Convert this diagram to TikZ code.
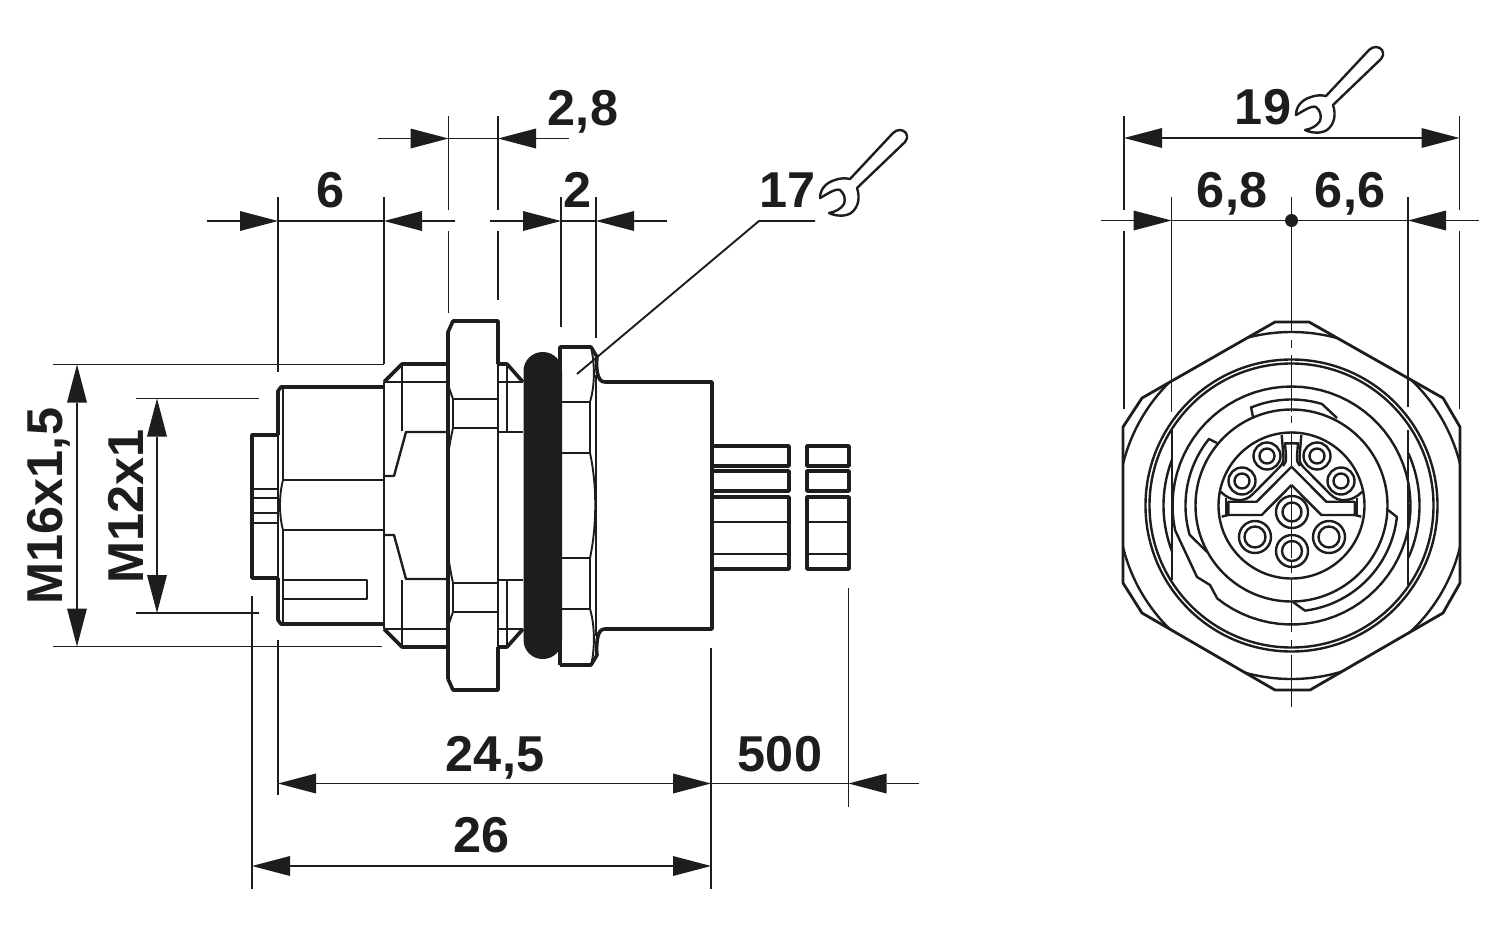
\documentclass[tikz,border=0pt]{standalone}
\usepackage{fontspec}
\setmainfont{Liberation Sans}
\usetikzlibrary{arrows.meta}
\definecolor{ink}{HTML}{1D1D1B}
\tikzset{
  dimline/.style={draw=ink,line width=0.95pt,line cap=butt},
  thinl/.style={draw=ink,line width=0.95pt,line join=miter},
  midl/.style={draw=ink,line width=1.2pt,line join=round},
  thickl/.style={draw=ink,line width=1.8pt,line join=round},
  tipr/.style={dimline,-{Triangle[length=19pt,width=10pt,line width=0pt,sep=0pt]}},
  both/.style={dimline,{Triangle[length=19pt,width=10pt,line width=0pt,sep=0pt]}-{Triangle[length=19pt,width=10pt,line width=0pt,sep=0pt]}},
  lab/.style={font=\bfseries\fontsize{25.2pt}{25pt}\selectfont,text=ink,anchor=base,inner sep=0pt,outer sep=0pt},
}
\newcommand{\wrenchshape}{%
  \draw[midl,fill=white] (850,179) -- (893,133) .. controls (897,129) and (903,129) .. (906,133)
   .. controls (908,137) and (907,140) .. (905,142) -- (857,188)
   .. controls (860,197) and (859,207) .. (851,213) .. controls (845,217) and (835,216) .. (829,213)
   .. controls (835,212) and (841,209) .. (844,204) .. controls (846,199) and (844,193) .. (840,190)
   .. controls (835,188) and (826,195) .. (820,198) .. controls (820,190) and (825,183) .. (835,180)
   .. controls (840,178) and (846,178) .. (850,179) -- cycle;}
\newcommand{\rarc}[3]{-- plot[domain=#2:#3,samples=70] ({1291.5+#1*cos(\x)},{505.5-#1*sin(\x)})}
\newcommand{\rarcs}[3]{plot[domain=#2:#3,samples=70] ({1291.5+#1*cos(\x)},{505.5-#1*sin(\x)})}
\begin{document}
\begin{tikzpicture}[x=0.5pt,y=-0.5pt]
\useasboundingbox (0,0) rectangle (1500,937);
% ---------- side view: front plug
\draw[thickl] (278,435) -- (252,435) -- (252,578) -- (278,578);
\draw[thinl] (254,489) -- (278,489) (254,498) -- (278,498) (254,513) -- (278,513) (254,523) -- (278,523);
\draw[thickl] (278,435) -- (278,391) -- (281,387) -- (384,387);
\draw[thickl] (278,578) -- (278,620) -- (281,624) -- (384,624);
\draw[thinl] (278,435) -- (278,578);
\draw[thinl] (283,387) -- (283,480) .. controls (279,495) and (279,515) .. (283,530) -- (283,624);
\draw[thinl] (283,480) -- (384,480) (283,530) -- (384,530);
\draw[midl] (283,580) -- (367,580) -- (367,599) -- (283,599);
% first nut
\draw[midl] (384,382) -- (384,629);
\draw[thickl] (384,382) -- (402,364) -- (448,364);
\draw[thickl] (384,629) -- (402,647) -- (448,647);
\draw[thinl] (384,382) -- (448,382) (384,629) -- (448,629);
\draw[midl] (402,364) -- (402,431) (402,580) -- (402,647);
\draw[midl] (384,476) -- (394,476) -- (406,432) -- (448,432);
\draw[midl] (384,535) -- (394,535) -- (406,579) -- (448,579);
% big nut
\draw[thickl] (448,679) -- (448,332) -- (453,321) -- (498,321) -- (498,364);
\draw[thickl] (448,679) -- (453,690) -- (498,690) -- (498,647);
\draw[midl] (498,364) -- (498,647);
\draw[thinl] (453,399) -- (498,399) (453,428) -- (498,428) (453,583) -- (498,583) (453,612) -- (498,612);
\draw[thinl] (448,385) -- (453,399) -- (453,428) .. controls (451,437) and (449,447) .. (448,457);
\draw[thinl] (448,553) .. controls (449,563) and (451,574) .. (453,583) -- (453,612) -- (448,626);
% ring seat
\draw[thickl] (498,364) -- (507,364) -- (523,382);
\draw[thickl] (498,647) -- (507,647) -- (523,629);
\draw[thinl] (498,382) -- (523,382) (498,432) -- (523,432) (498,580) -- (523,580) (498,629) -- (523,629);
\draw[midl] (507,364) -- (507,431) (507,580) -- (507,647);
% O ring
\fill[ink,rounded corners=9.5pt] (523.5,352) rectangle (562,659);
% second nut
\draw[thickl] (560,665) -- (560,347) -- (591,347) -- (597,357) .. controls (596,365) and (597,373) .. (598,375) .. controls (599,379) and (601,382) .. (605,382) -- (712,382) -- (712,446);
\draw[thickl] (712,569) -- (712,629) -- (605,629) .. controls (601,629) and (599,632) .. (598,636) .. controls (597,640) and (596,648) .. (597,655) -- (591,665) -- (560,665);
\draw[midl] (712,446) -- (712,569);
\draw[thinl] (560,402) -- (590,402) -- (590,453) -- (560,453);
\draw[thinl] (560,558) -- (590,558) -- (590,609) -- (560,609);
\draw[thinl] (591,347) .. controls (595,365) and (595,385) .. (590,402);
\draw[thinl] (590,453) .. controls (597,485) and (597,525) .. (590,558);
\draw[thinl] (590,609) .. controls (595,625) and (595,650) .. (591,665);
\draw[thinl] (596,375) -- (596,636);
% cable
\draw[thickl] (712,446) rectangle (789,466) (712,471) rectangle (789,491) (712,497) rectangle (789,569);
\draw[thickl] (807,446) rectangle (849,466) (807,471) rectangle (849,491) (807,497) rectangle (849,569);
\draw[midl] (712,522) -- (789,522) (712,554) -- (789,554) (807,522) -- (849,522) (807,554) -- (849,554);
\draw[thickl] (712,466) -- (712,471) (712,491) -- (712,497);
% ---------- side view: dimensions
\draw[dimline] (278,197) -- (278,372) (278,640) -- (278,795);
\draw[dimline] (384,197) -- (384,364);
\draw[dimline] (448.5,116) -- (448.5,210) (448.5,231) -- (448.5,313);
\draw[dimline] (498,116) -- (498,210) (498,231) -- (498,300);
\draw[dimline] (561,197) -- (561,327);
\draw[dimline] (596,197) -- (596,338);
\coordinate (a1) at (207,221); \coordinate (a2) at (278,221);
\coordinate (a3) at (455,221); \coordinate (a4) at (384,221);
\coordinate (a5) at (490,221); \coordinate (a6) at (561,221);
\coordinate (a7) at (667,221); \coordinate (a8) at (596,221);
\draw[tipr] (a1) -- (a2);
\draw[dimline] (a2) -- (a4);
\draw[tipr] (a3) -- (a4);
\draw[tipr] (a5) -- (a6);
\draw[dimline] (a6) -- (a8);
\draw[tipr] (a7) -- (a8);
\coordinate (b1) at (378,138.5); \coordinate (b2) at (448.5,138.5);
\coordinate (b3) at (569,138.5); \coordinate (b4) at (498,138.5);
\draw[tipr] (b1) -- (b2);
\draw[dimline] (b2) -- (b4);
\draw[tipr] (b3) -- (b4);
% left vertical dimensions
\draw[dimline] (53,364.5) -- (384,364.5) (53,646.5) -- (382,646.5);
\draw[dimline] (136,398.5) -- (259,398.5) (136,613) -- (259,613);
\coordinate (m1) at (77,364.5); \coordinate (m2) at (77,646.5);
\coordinate (m3) at (157,398.5); \coordinate (m4) at (157,613);
\draw[both] (m1) -- (m2);
\draw[both] (m3) -- (m4);
% bottom dimensions
\draw[dimline] (252,596) -- (252,889);
\draw[dimline] (711,648) -- (711,889);
\draw[dimline] (848.5,588) -- (848.5,807);
\coordinate (c1) at (278,783.5); \coordinate (c2) at (711,783.5);
\coordinate (c3) at (919,783.5); \coordinate (c4) at (848.5,783.5);
\coordinate (c5) at (252,866); \coordinate (c6) at (711,866);
\draw[both] (c1) -- (c2);
\draw[dimline] (c2) -- (c4);
\draw[tipr] (c3) -- (c4);
\draw[both] (c5) -- (c6);
% leader and wrench 17
\coordinate (l1) at (577,374); \coordinate (l2) at (759,221); \coordinate (l3) at (815,221);
\draw[dimline] (l1) -- (l2) -- (l3);
\wrenchshape
% labels
\node[lab] (t28) at (583,125.5) {2,8};
\node[lab] (t6) at (331,207) {6};
\node[lab] (t2) at (578,207) {2};
\node[lab] (t17) at (788,207) {17};
\node[lab] (t245) at (495,771) {24,5};
\node[lab] (t500) at (780,771) {500};
\node[lab] (t26) at (482,852) {26};
\node[lab,rotate=90] (tm16) at (62,506) {M16x1,5};
\node[lab,rotate=90] (tm12) at (143,506) {M12x1};
% ---------- end view
\begin{scope}
\clip (1275,322) -- (1309,322) -- (1443,398) -- (1460,427) -- (1460,583) -- (1443,613) -- (1310,690) -- (1275,690) -- (1142,613) -- (1123,583) -- (1123,427) -- (1142,398) -- cycle;
\draw[midl] (1291.5,505.5) circle[radius=173.5];
\end{scope}
\draw[thickl,line width=1.4pt] (1275,322) -- (1309,322) -- (1443,398) -- (1460,427) -- (1460,583) -- (1443,613) -- (1310,690) -- (1275,690) -- (1142,613) -- (1123,583) -- (1123,427) -- (1142,398) -- cycle;
\draw[midl] (1291.5,505.5) circle[radius=146];
\draw[midl] (1291.5,505.5) circle[radius=142];
\draw[midl] (1291.5,505.5) circle[radius=96];
\draw[midl] (1291.5,505.5) circle[radius=73];
\draw[midl] (1217,598) -- (1210,585) -- (1197,577) -- (1175,530) \rarc{119}{551.9}{231.2};
\draw[midl] (1172,430) -- (1172,580) (1408,430) -- (1408,585);
\draw[midl] \rarcs{128}{159}{201};
\draw[midl] \rarcs{128}{-24}{24};
\draw[midl] (1217,443) -- (1209,439) \rarc{106}{141}{196} -- (1207,552);
\draw[midl] (1253,417) -- (1251,407) \rarc{106}{112.4}{73.3} -- (1337,418);
\draw[midl] (1388,510) -- (1397,517) \rarc{106}{-6.2}{-82.7} -- (1293,602);
% pins
\foreach \px/\py/\ro/\ri/\pn in {1267/456/13.5/7.5/p1,1242/481/13.5/7.5/p2,1317/456/13.5/7.5/p3,1341/481/13.5/7.5/p4,1292/512/16/9.5/p5,1255/537/16/10.5/p6,1329/537/16/10.5/p7,1292/551/16/10/p8}{
  \draw[midl] (\px,\py) circle[radius=\ro];
  \draw[midl] (\px,\py) circle[radius=\ri];
}
% keyed insert, left half and its mirror image
\foreach \sc/\sh in {1/0,-1/2583}{
\begin{scope}[shift={(\sh,0)},xscale=\sc]
  \draw[midl] (1281.7,435) -- (1283.3,455) .. controls (1284,461) and (1283,463) .. (1280,466.7) -- (1253,494) .. controls (1248,499) and (1243,500.5) .. (1238,500) .. controls (1232,500) and (1226,497) .. (1220.7,491.7);
  \draw[midl] (1291.5,466.7) -- (1256.7,501.7) -- (1228.3,501.7) -- (1228.3,515) -- (1261.7,515) -- (1291.5,485);
  \draw[midl] (1221.7,516.7) -- (1228.3,515);
  \draw[midl] (1226,498) -- (1226,516);
  \draw[midl] (1291.5,443.3) -- (1285,443.3) -- (1286,456) .. controls (1286.5,461) and (1285,464) .. (1283,466);
\end{scope}}
% end view dimensions
\draw[dimline] (1124,116) -- (1124,210) (1124,231) -- (1124,409);
\draw[dimline] (1459.5,116) -- (1459.5,210) (1459.5,231) -- (1459.5,409);
\draw[dimline] (1171.5,197) -- (1171.5,412);
\draw[dimline] (1408,197) -- (1408,407);
\coordinate (d1) at (1124,138); \coordinate (d2) at (1459.5,138);
\draw[both] (d1) -- (d2);
\coordinate (e1) at (1101,220.5); \coordinate (e2) at (1171.5,220.5);
\coordinate (e3) at (1479,220.5); \coordinate (e4) at (1408,220.5);
\draw[tipr] (e1) -- (e2);
\draw[dimline] (e2) -- (e4);
\draw[tipr] (e3) -- (e4);
\fill[ink] (1291.5,220.5) circle[radius=6.5];
% centre line
\draw[dimline] (1291.5,197) -- (1291.5,333) (1291.5,340) -- (1291.5,348) (1291.5,355) -- (1291.5,412) (1291.5,416) -- (1291.5,423) (1291.5,431) -- (1291.5,466) (1291.5,487) -- (1291.5,558) (1291.5,562) -- (1291.5,573) (1291.5,578) -- (1291.5,632) (1291.5,640) -- (1291.5,648) (1291.5,655) -- (1291.5,707);
\begin{scope}[shift={(476,-83)}]
\wrenchshape
\end{scope}
\node[lab] (t19) at (1263,124.5) {19};
\node[lab] (t68) at (1232,207) {6,8};
\node[lab] (t66) at (1350,207) {6,6};
\end{tikzpicture}
\end{document}
